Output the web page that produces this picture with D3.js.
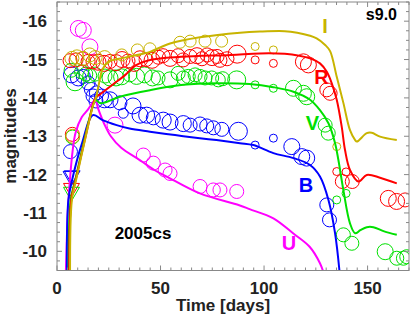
<!DOCTYPE html>
<html>
<head>
<meta charset="utf-8">
<script src="https://cdn.jsdelivr.net/npm/d3@7"></script>
<style>
  body { margin: 0; background: #fff; }
  svg { display: block; font-family: "Liberation Sans", Arial, sans-serif; font-weight: bold; }
</style>
</head>
<body>
<div id="chart"></div>
<script>
// model light curves [day, absolute magnitude]
var modelU = [[4.3,-9.5],[5.3,-11.1],[6.3,-11.9],[7.5,-12.6],[9,-13.1],[12,-13.5],[15,-13.7],[17.5,-13.9],[18.5,-13.95],[20,-13.7],[23,-13.3],[26,-13.0],[31,-12.7],[40,-12.38],[47,-12.12],[53,-11.95],[69,-11.51],[88,-11.2],[93,-11.1],[104.5,-10.86],[114,-10.47],[122,-10.12],[127,-9.69],[129,-9.4]];
var modelB = [[4.8,-9.5],[5.5,-11.34],[7.3,-11.86],[12,-12.8],[17.4,-13.55],[22,-13.42],[28.8,-13.29],[35,-13.2],[44.9,-13.12],[57,-13.03],[69,-12.95],[77,-12.9],[88.4,-12.82],[94.8,-12.77],[104.5,-12.56],[114.2,-12.43],[122.2,-12.25],[127,-11.95],[131.1,-11.34],[134.3,-10.47],[136.4,-9.5]];
var modelV = [[5.6,-9.5],[6.6,-11.34],[8.8,-11.86],[13.2,-12.9],[17.2,-13.78],[18.6,-13.95],[21,-13.86],[30.4,-14.03],[44.9,-14.2],[61,-14.34],[77.1,-14.38],[93,-14.36],[104.5,-14.28],[114.2,-14.16],[122.2,-13.95],[127,-13.68],[131.1,-13.34],[134.3,-12.82],[135.9,-12.38],[138.3,-11.6],[141.5,-10.73],[144,-10.47],[146.5,-10.55],[149.6,-10.63],[152.8,-10.63],[158,-10.52],[164.1,-10.43]];
var modelR = [[5.9,-9.5],[6.9,-11.34],[9.0,-11.86],[13.4,-12.9],[17.3,-13.8],[18.6,-14.0],[21,-14.1],[27,-14.35],[33,-14.6],[38,-14.85],[45,-14.99],[60,-15.07],[84,-15.12],[98,-15.16],[110,-15.15],[117,-15.1],[122.2,-15.03],[127,-14.9],[130.3,-14.68],[132.7,-14.38],[135.1,-13.95],[137.5,-13.25],[139.1,-12.64],[141.5,-12.12],[145.6,-11.82],[149.6,-11.99],[156,-11.92],[164.1,-11.77]];
var modelI = [[6.3,-9.5],[7.2,-11.34],[9.2,-11.86],[13.5,-12.9],[17.4,-13.8],[18.8,-14.0],[20,-14.3],[22,-14.75],[25,-14.95],[30,-15.02],[37,-15.1],[44.9,-15.2],[54.6,-15.42],[69,-15.58],[88.4,-15.7],[98,-15.73],[110,-15.74],[116,-15.7],[122.2,-15.62],[125.4,-15.55],[129.5,-15.38],[131.9,-15.22],[135.1,-14.55],[138.3,-13.87],[141.5,-13.16],[144,-12.9],[144.8,-12.86],[149.6,-13.08],[152,-13.09],[156,-12.99],[164.1,-12.9]];

// observations of SN 2005cs [day, magnitude, symbol size]
var obsU = [[10.3,-15.81,8],[12.7,-15.76,8],[15.9,-15.33,8],[28,-13.29,8],[41.7,-12.51,7],[46.5,-12.3,7],[52.2,-12.12,7],[54.6,-12.03,7],[69.1,-11.69,7],[75.5,-11.6,7],[78.7,-11.6,7],[86.8,-11.56,7]];
var obsB = [[6.5,-12.6,7],[7.0,-14.6,8],[10.3,-14.52,8],[12.7,-14.56,7],[15.0,-14.39,7],[16.6,-14.22,7],[17.4,-14.05,7],[19.0,-14.13,7],[18.8,-13.92,7],[21.5,-14.05,7],[22.9,-13.95,8],[25.6,-13.95,8],[30.4,-13.87,7],[32.0,-13.6,5],[36.7,-13.79,8],[40.1,-13.55,8],[43.3,-13.55,8],[46.5,-13.48,7],[51.3,-13.42,8],[54.6,-13.37,8],[61.0,-13.33,8],[64.3,-13.29,7],[69.1,-13.32,7],[72.3,-13.27,7],[75.5,-13.22,7],[79.6,-13.18,7],[87.6,-13.13,9],[95.7,-12.77,4],[104.5,-12.95,4],[113.4,-12.73,8],[118.2,-12.47,8],[120.6,-12.43,8],[130.3,-11.21,7],[131.6,-10.82,7]];
var obsV = [[7.5,-12.98,7],[6.8,-14.72,7],[8.7,-14.42,9],[11.9,-14.68,7],[13.9,-14.62,7],[15.8,-14.58,7],[18.4,-14.62,7],[23.2,-14.57,7],[25.6,-14.52,8],[28.5,-14.52,8],[31.2,-14.55,8],[35.2,-14.6,7],[38.4,-14.56,8],[42.2,-14.6,8],[46.1,-14.52,8],[48.8,-14.52,7],[54.6,-14.47,8],[58.5,-14.64,7],[61.0,-14.52,7],[63.4,-14.56,7],[66.7,-14.6,7],[69.1,-14.56,7],[71.5,-14.52,7],[74.7,-14.52,7],[77.9,-14.47,7],[80.0,-14.5,7],[86.8,-14.47,9],[95.7,-14.34,4],[104.5,-14.25,4],[114.2,-14.25,8],[119,-14.12,8],[120.6,-14.03,8],[129.5,-13.29,7],[131,-13.08,7],[135.1,-11.34,4],[139.6,-11.51,4],[138.3,-10.43,7],[142.4,-10.21,7],[158.5,-9.99,8],[164.1,-9.82,7],[167.3,-9.82,7],[168.9,-9.86,7]];
var obsR = [[7.4,-13.05,7],[6.3,-14.97,7],[9.2,-14.99,7],[12.6,-15.02,7],[15.0,-14.95,7],[17.4,-14.94,7],[19.8,-14.93,8],[22.7,-14.9,8],[25.6,-14.95,7],[28.5,-14.92,8],[31.4,-15.0,8],[34.3,-14.96,7],[37.2,-14.9,8],[40.1,-15.02,8],[43.0,-15.0,7],[45.9,-14.98,8],[49,-15.06,7],[51.2,-15.1,7],[54.6,-15.03,8],[58.5,-15.1,7],[60.9,-14.99,7],[64.3,-15.08,7],[67.6,-15.1,8],[70.0,-15.02,7],[72.5,-15.12,7],[74.9,-15.05,8],[77.3,-15.08,7],[78.7,-14.98,7],[82.1,-15.02,7],[87.0,-15.14,9],[95.7,-14.99,4],[104.5,-14.9,4],[119,-14.94,8],[121.4,-14.86,8],[130.3,-14.21,7],[131.9,-14.12,7],[135.1,-12.08,4],[139.6,-12.07,4],[137.8,-11.82,7],[142.6,-11.82,7],[160,-11.38,8],[164,-11.3,8],[168.1,-11.34,7]];
var obsI = [[7.6,-13.0,7],[7.2,-15.03,7],[9.6,-15.07,7],[12.5,-15.03,7],[15.8,-15.12,7],[18.4,-15.05,7],[23,-15.05,7],[31.3,-15.12,6],[38.8,-15.25,6],[44.9,-15.28,6],[59.4,-15.45,6],[64.3,-15.48,6],[71.5,-15.48,6],[79.5,-15.48,6],[95.7,-15.34,4],[104.5,-15.25,4],[135.1,-12.73,4]];
// upper limits (down triangles)
var limB = [[6.8,-11.96],[7.3,-11.98]];
var limR = [[7.0,-11.65]];
var limV = [[7.0,-11.55]];

var xTicks = [0, 50, 100, 150];
var yTicks = [-16, -15, -14, -13, -12, -11, -10];

var colors = { U: '#ff00ff', B: '#0000ff', V: '#00e000', R: '#ff0000', I: '#c8b400' };

var W = 415, H = 317;
var m = { left: 57, right: 409, top: 2, bottom: 270.5 };

var svg = d3.select('#chart').append('svg')
	.attr('width', W)
	.attr('height', H);

var x = d3.scaleLinear().domain([0, 170]).range([m.left, m.right]);
var y = d3.scaleLinear().domain([-16.5, -9.5]).range([m.top, m.bottom]);

svg.append('defs').append('clipPath').attr('id', 'clip')
	.append('rect').attr('x', m.left).attr('y', m.top)
	.attr('width', m.right - m.left).attr('height', m.bottom - m.top);

var plot = svg.append('g').attr('clip-path', 'url(#clip)');

// observation circles
var bands = [['U', obsU], ['B', obsB], ['V', obsV], ['R', obsR], ['I', obsI]];
bands.forEach(function(b) {
	plot.append('g').selectAll('circle')
		.data(b[1])
		.enter()
		.append('circle')
		.attr('cx', function(d) { return x(d[0]); })
		.attr('cy', function(d) { return y(d[1]); })
		.attr('r', function(d) { return d[2]; })
		.attr('fill', 'none')
		.attr('stroke', colors[b[0]])
		.attr('stroke-width', 1);
});

// upper limits
var tri = d3.symbol().type(d3.symbolTriangle).size(110);
[['B', limB], ['R', limR], ['V', limV]].forEach(function(b) {
	plot.append('g').selectAll('path')
		.data(b[1])
		.enter()
		.append('path')
		.attr('d', tri)
		.attr('transform', function(d) { return 'translate(' + x(d[0]) + ',' + y(d[1]) + ') rotate(180)'; })
		.attr('fill', 'none')
		.attr('stroke', colors[b[0]])
		.attr('stroke-width', 1);
});

// model lines
var line = d3.line()
	.x(function(d) { return x(d[0]); })
	.y(function(d) { return y(d[1]); })
	.curve(d3.curveCatmullRom);

[['U', modelU], ['B', modelB], ['V', modelV], ['R', modelR], ['I', modelI]].forEach(function(c) {
	plot.append('path')
		.datum(c[1])
		.attr('d', line)
		.attr('fill', 'none')
		.attr('stroke', colors[c[0]])
		.attr('stroke-width', 2);
});

// frame and ticks
var axisColor = '#888';
svg.append('rect')
	.attr('x', m.left).attr('y', m.top)
	.attr('width', m.right - m.left).attr('height', m.bottom - m.top)
	.attr('fill', 'none').attr('stroke', axisColor).attr('stroke-width', 1);

var g = svg.append('g').attr('stroke', axisColor).attr('stroke-width', 1);
d3.range(0, 171, 5).forEach(function(t) {
	var len = (t % 50 == 0) ? 5 : 3;
	g.append('line').attr('x1', x(t)).attr('x2', x(t)).attr('y1', m.bottom).attr('y2', m.bottom - len);
	g.append('line').attr('x1', x(t)).attr('x2', x(t)).attr('y1', m.top).attr('y2', m.top + len);
});
d3.range(-16.5, -9.49, 0.25).forEach(function(t) {
	var len = (Math.abs(t - Math.round(t)) < 0.01) ? 5 : 3;
	g.append('line').attr('y1', y(t)).attr('y2', y(t)).attr('x1', m.left).attr('x2', m.left + len);
	g.append('line').attr('y1', y(t)).attr('y2', y(t)).attr('x1', m.right).attr('x2', m.right - len);
});

svg.append('g').selectAll('text')
	.data(xTicks)
	.enter()
	.append('text')
	.attr('x', function(d) { return x(d); })
	.attr('y', 293.5)
	.attr('text-anchor', 'middle')
	.style('font-size', '17px')
	.attr('fill', '#222')
	.text(function(d) { return d; });

svg.append('g').selectAll('text')
	.data(yTicks)
	.enter()
	.append('text')
	.attr('x', 47)
	.attr('y', function(d) { return y(d) + 6; })
	.attr('text-anchor', 'end')
	.style('font-size', '17px')
	.attr('fill', '#222')
	.text(function(d) { return d; });

svg.append('text')
	.attr('x', 223).attr('y', 311)
	.attr('text-anchor', 'middle')
	.style('font-size', '17px')
	.attr('fill', '#222')
	.text('Time [days]');

svg.append('text')
	.attr('transform', 'translate(16,136) rotate(-90)')
	.attr('text-anchor', 'middle')
	.style('font-size', '17px')
	.attr('fill', '#222')
	.text('magnitudes');

// band labels
var labels = [['I', 325, 33], ['R', 321.5, 83.5], ['V', 312.5, 130], ['B', 306, 192], ['U', 289, 250]];
svg.append('g').selectAll('text')
	.data(labels)
	.enter()
	.append('text')
	.attr('x', function(d) { return d[1]; })
	.attr('y', function(d) { return d[2]; })
	.attr('text-anchor', 'middle')
	.style('font-size', '20px')
	.attr('fill', function(d) { return colors[d[0]]; })
	.text(function(d) { return d[0]; });

svg.append('text')
	.attr('x', 397).attr('y', 20)
	.attr('text-anchor', 'end')
	.style('font-size', '16px')
	.attr('fill', '#000')
	.text('s9.0');

svg.append('text')
	.attr('x', 143).attr('y', 239)
	.attr('text-anchor', 'middle')
	.style('font-size', '17px')
	.attr('fill', '#000')
	.text('2005cs');
</script>
</body>
</html>
